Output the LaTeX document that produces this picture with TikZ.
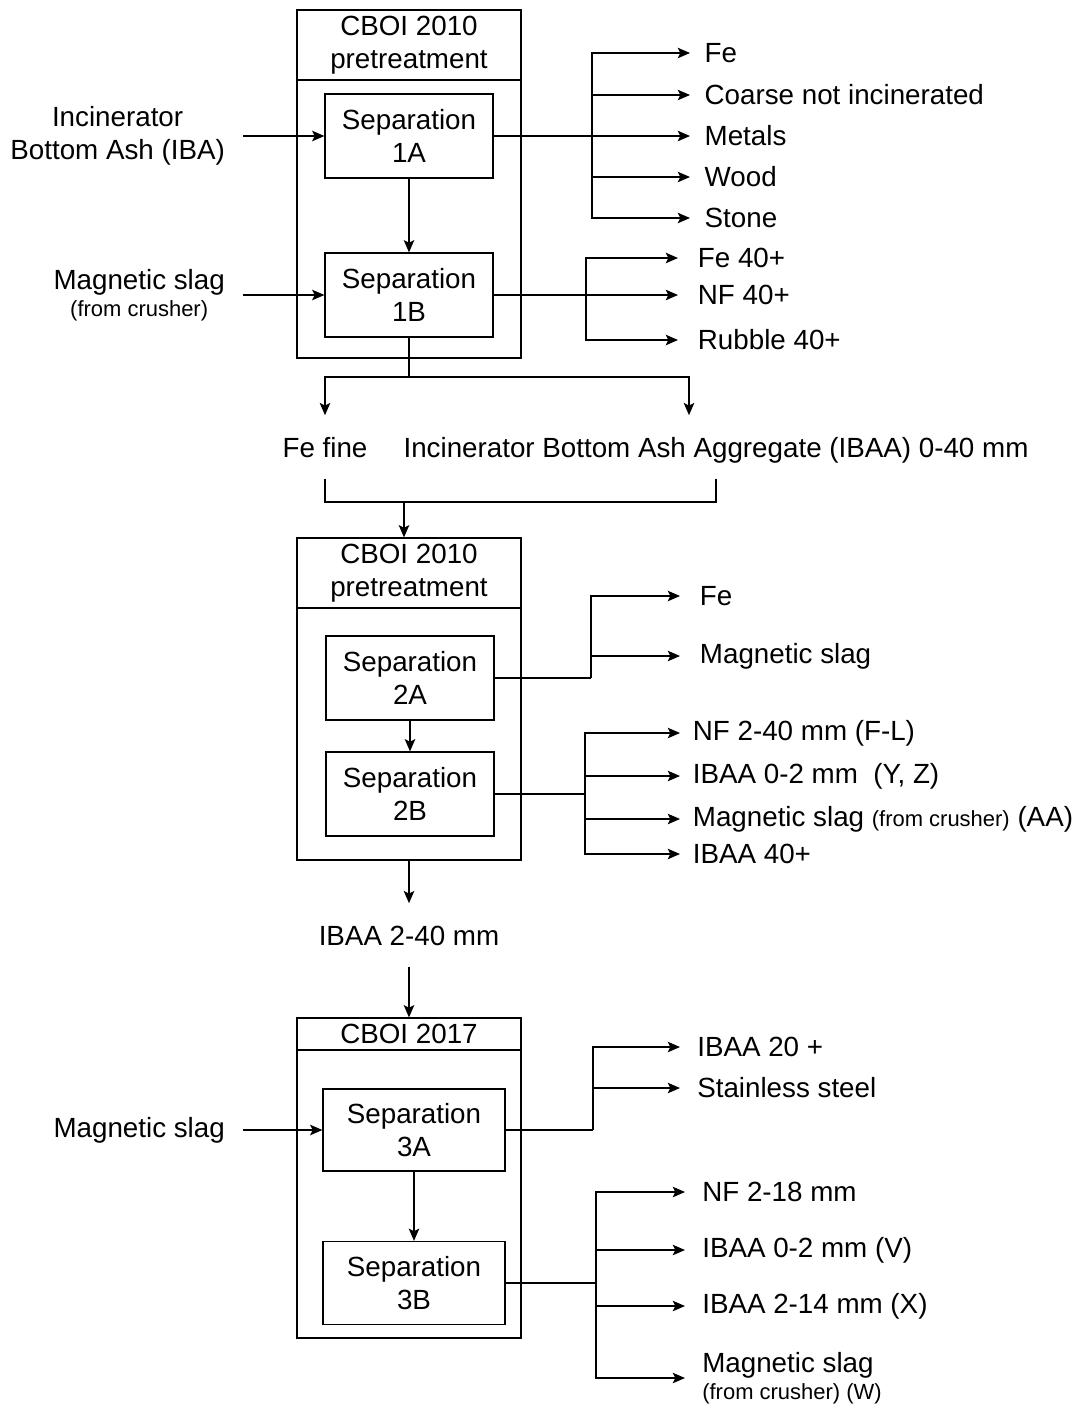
\documentclass[tikz,border=0pt]{standalone}
\usepackage{fontspec}
\setmainfont{Liberation Sans}
\usetikzlibrary{arrows.meta}
\newcommand{\sm}[1]{{\fontsize{12.5}{14}\selectfont #1}}
\begin{document}
\begin{tikzpicture}[x=0.02cm, y=-0.02cm, >={Stealth[length=7pt,width=6pt,inset=1.5pt]}, line width=0.7pt,
  every node/.style={font=\fontsize{15.8}{18.6}\selectfont},
  sep/.style={draw, align=center, minimum width=3.36cm, minimum height=1.68cm, inner sep=0pt},
  frame/.style={draw, minimum width=4.48cm, inner sep=0pt},
  hdr/.style={draw, align=center, minimum width=4.48cm, inner sep=0pt},
  src/.style={align=center, anchor=east, inner xsep=10pt},
  outlbl/.style={anchor=west, align=left, inner xsep=#1}, outlbl/.default=8pt,
  mid/.style={text height=11.5pt, text depth=0pt, inner ysep=12pt}]
  \useasboundingbox (0,0) rectangle (1088,1407);
  % first stage
  \node[frame, minimum height=6.96cm] (f1) at (409,184) {};
  \node[hdr, minimum height=1.4cm] (h1) at (409,45) {CBOI 2010\\pretreatment};
  \node[sep] (s1a) at (409,136) {Separation\\1A};
  \node[sep] (s1b) at (409,295) {Separation\\1B};
  \node[src] (iba) at (243,136) {Incinerator\\Bottom Ash (IBA)};
  \node[src] (ms1) at (243,295) {Magnetic slag\\[-3pt]\sm{(from crusher)}};
  \draw[->] (iba.east) -- (s1a.west);
  \draw[->] (ms1.east) -- (ms1.east -| s1b.west);
  \draw[->] (s1a) -- (s1b);
  \coordinate (ja) at (592,136);
  \draw (s1a.east) -- (ja);
  \foreach \y/\t [count=\i] in {53/Fe, 95/Coarse not incinerated, 136/Metals, 177/Wood, 218/Stone} {
    \node[outlbl] (oa\i) at (690,\y) {\t};
    \draw[->] (ja) |- (oa\i.west);
  }
  \coordinate (jb) at (586,295);
  \draw (s1b.east) -- (jb);
  \foreach \y/\t [count=\i] in {258/Fe 40+, 295/NF 40+, 340/Rubble 40+} {
    \node[outlbl=11pt] (ob\i) at (678,\y) {\t};
    \draw[->] (jb) |- (ob\i.west);
  }
  % split and merge
  \coordinate (c1) at (409,377);
  \draw (s1b.south) -- (c1);
  \node[mid] (fefine) at (325,447) {Fe fine};
  \node[mid] (ibaa) at (716,447) {Incinerator Bottom Ash Aggregate (IBAA) 0-40 mm};
  \coordinate (tb) at (689,0);
  \draw[->] (c1) -| (fefine.north);
  \draw[->] (c1) -| (tb |- ibaa.north);
  \coordinate (j2) at (404,502);
  \draw (fefine.south) |- (j2) -| (ibaa.south);
  % second stage
  \node[frame, minimum height=6.44cm] (f2) at (409,699) {};
  \node[hdr, minimum height=1.4cm] (h2) at (409,573) {CBOI 2010\\pretreatment};
  \draw[->] (j2) -- (j2 |- h2.north);
  \node[sep] (s2a) at (410,678) {Separation\\2A};
  \node[sep] (s2b) at (410,794) {Separation\\2B};
  \draw[->] (s2a) -- (s2b);
  \coordinate (jc) at (591,678);
  \draw (s2a.east) -- (jc);
  \foreach \y/\t [count=\i] in {596/Fe, 656/Magnetic slag} {
    \node[outlbl=11pt] (oc\i) at (680,\y) {\t};
    \draw[->] (jc) |- (oc\i.west);
  }
  \coordinate (jd) at (585,794);
  \draw (s2b.east) -- (jd);
  \foreach \y/\t [count=\i] in {733/NF 2-40 mm (F-L), 776/{IBAA 0-2 mm\ \ (Y, Z)}, 819/{Magnetic slag \sm{(from crusher)} (AA)}, 854/IBAA 40+} {
    \node[outlbl=7pt] (od\i) at (680,\y) {\t};
    \draw[->] (jd) |- (od\i.west);
  }
  \node[mid] (ibaa2) at (409,935) {IBAA 2-40 mm};
  \draw[->] (f2.south) -- (ibaa2.north);
  % third stage
  \node[frame, minimum height=6.4cm] (f3) at (409,1178) {};
  \node[hdr, minimum height=0.64cm] (h3) at (409,1034) {CBOI 2017};
  \draw[->] (ibaa2.south) -- (h3.north);
  \node[sep, minimum width=3.64cm, minimum height=1.64cm] (s3a) at (414,1130) {Separation\\3A};
  \node[sep, minimum width=3.64cm, minimum height=1.66cm] (s3b) at (414,1283) {Separation\\3B};
  \node[src] (ms3) at (243,1130) {Magnetic slag};
  \draw[->] (ms3.east) -- (s3a.west);
  \draw[->] (s3a) -- (s3b);
  \coordinate (je) at (593,1130);
  \draw (s3a.east) -- (je);
  \foreach \y/\t [count=\i] in {1047/IBAA 20 +, 1088/Stainless steel} {
    \node[outlbl=9.5pt] (oe\i) at (680,\y) {\t};
    \draw[->] (je) |- (oe\i.west);
  }
  \coordinate (jf) at (596,1283);
  \draw (s3b.east) -- (jf);
  \foreach \y/\t [count=\i] in {1192/NF 2-18 mm, 1250/IBAA 0-2 mm (V), 1306/IBAA 2-14 mm (X), 1378/{Magnetic slag\\[-3pt]\sm{(from crusher) (W)}}} {
    \node[outlbl=9.5pt] (of\i) at (685,\y) {\t};
    \draw[->] (jf) |- (of\i.west);
  }
\end{tikzpicture}
\end{document}
